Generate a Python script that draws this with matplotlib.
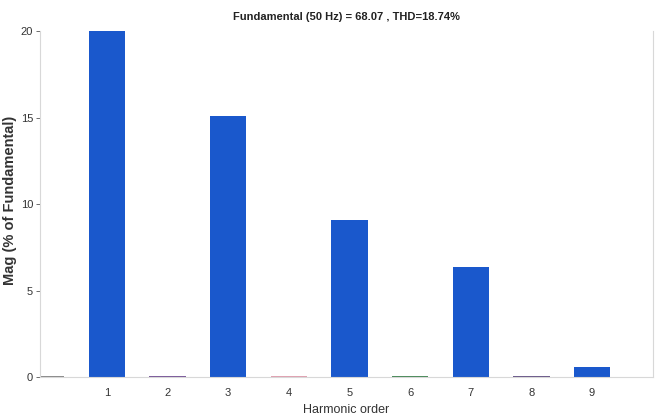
import matplotlib
matplotlib.use('Agg')
import matplotlib.pyplot as plt
import numpy as np

# harmonic spectrum data (% of fundamental), fundamental shown clipped by ylim
orders = [0, 1, 2, 3, 4, 5, 6, 7, 8, 9]
mags = [0.05, 100.0, 0.08, 15.1, 0.06, 9.07, 0.08, 6.35, 0.08, 0.58]
bar_colors = ['#8a8a8a', '#1a58cc', '#7a5a9a', '#1a58cc', '#e0a0b0',
              '#1a58cc', '#4a8a5a', '#1a58cc', '#6a5a8a', '#1a58cc']
title = 'Fundamental (50 Hz) = 68.07 , THD=18.74%'

plt.rcParams['font.family'] = ['Liberation Sans', 'DejaVu Sans']

fig = plt.figure(figsize=(6.56, 4.2), dpi=100)
ax = fig.add_axes([0.061, 0.102, 0.934, 0.824])

ax.bar(orders, mags, width=0.6, color=bar_colors, edgecolor='none')
ax.set_xlim(-0.1, 10.0)
ax.set_ylim(0, 20)
ax.set_xticks(range(1, 10))
ax.set_yticks([0, 5, 10, 15, 20])
ax.tick_params(axis='both', labelsize=8, colors='#333333', length=3, width=0.5)
ax.tick_params(axis='y', pad=2)
ax.tick_params(axis='x', length=0, pad=8)
for s in ax.spines.values():
    s.set_color('#d8d8d8')
    s.set_linewidth(0.8)
ax.spines['top'].set_visible(False)

ax.set_title(title, fontsize=8, fontweight='bold', color='#222222', pad=8)
ax.set_xlabel('Harmonic order', fontsize=9, color='#333333', labelpad=4)
ax.set_ylabel('Mag (% of Fundamental)', fontsize=10.5, fontweight='bold', color='#333333')
ax.yaxis.set_label_coords(-0.037, 0.51)

plt.savefig('out.png', dpi=100)
